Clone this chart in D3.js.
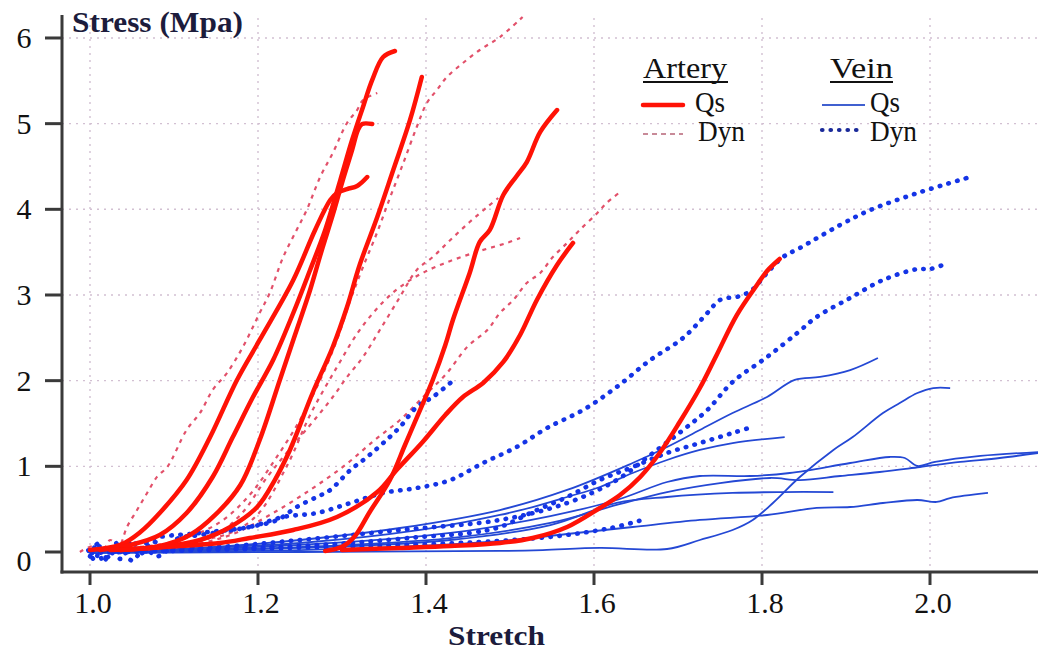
<!DOCTYPE html>
<html>
<head>
<meta charset="utf-8">
<script src="https://cdn.jsdelivr.net/npm/d3@7"></script>
<style>
  html, body { margin: 0; padding: 0; background: #fff; }
  svg { display: block; }
  text { font-family: "Liberation Serif", "Times New Roman", Times, serif; }
</style>
</head>
<body>
<svg id="chart" width="1038" height="651"></svg>
<script>
// stretch / stress (MPa) curves

// artery, quasi-static (thick red)
const arteryQs1 = [[1.000,0.023],[1.036,0.082],[1.060,0.233],[1.083,0.455],[1.115,0.840],[1.143,1.342],[1.175,2.008],[1.202,2.475],[1.242,3.175],[1.268,3.759],[1.286,4.109],[1.294,4.190],[1.306,4.237],[1.318,4.272],[1.330,4.377]];
const arteryQs2 = [[1.012,0.023],[1.048,0.082],[1.083,0.198],[1.115,0.455],[1.146,0.875],[1.170,1.342],[1.194,1.809],[1.218,2.241],[1.242,2.790],[1.262,3.292],[1.280,3.759],[1.298,4.342],[1.312,4.809],[1.325,5.194],[1.336,5.510],[1.349,5.778],[1.363,5.848]];
const arteryQs3 = [[1.024,0.023],[1.083,0.070],[1.119,0.198],[1.149,0.432],[1.179,0.782],[1.202,1.307],[1.226,2.008],[1.244,2.533],[1.262,3.058],[1.276,3.525],[1.289,3.934],[1.301,4.342],[1.312,4.692],[1.319,4.926],[1.324,4.996],[1.336,4.996]];
const arteryQs4 = [[1.036,0.023],[1.095,0.070],[1.131,0.140],[1.167,0.292],[1.199,0.525],[1.220,0.840],[1.238,1.191],[1.265,1.856],[1.289,2.393],[1.306,2.860],[1.321,3.350],[1.342,3.910],[1.361,4.459],[1.381,5.043],[1.395,5.545]];
const arteryQs5 = [[1.280,0.012],[1.300,0.060],[1.315,0.180],[1.333,0.467],[1.357,0.840],[1.375,1.249],[1.393,1.658],[1.408,2.008],[1.423,2.416],[1.432,2.708],[1.452,3.257],[1.464,3.619],[1.476,3.759],[1.492,4.167],[1.508,4.389],[1.520,4.552],[1.536,4.903],[1.556,5.159]];
const arteryQs6 = [[1.036,0.023],[1.107,0.070],[1.155,0.105],[1.190,0.163],[1.242,0.257],[1.294,0.409],[1.342,0.700],[1.365,0.957],[1.396,1.284],[1.423,1.599],[1.444,1.809],[1.468,1.973],[1.492,2.218],[1.512,2.533],[1.532,2.942],[1.556,3.350],[1.575,3.607]];
const arteryQs7 = [[1.300,0.023],[1.369,0.047],[1.429,0.070],[1.488,0.105],[1.527,0.163],[1.568,0.292],[1.607,0.514],[1.631,0.665],[1.655,0.875],[1.679,1.167],[1.702,1.517],[1.726,1.914],[1.746,2.300],[1.770,2.766],[1.794,3.117],[1.806,3.280],[1.821,3.420]];

// artery, dynamic (thin dashed)
const arteryDyn1 = [[0.988,0.000],[1.004,0.070],[1.015,0.020],[1.024,0.140],[1.034,0.060],[1.044,0.292],[1.056,0.490],[1.068,0.689],[1.080,0.880],[1.092,0.992],[1.115,1.424],[1.131,1.623],[1.146,1.891],[1.163,2.089],[1.182,2.393],[1.202,2.790],[1.214,3.023],[1.230,3.443],[1.246,3.759],[1.258,3.992],[1.274,4.377],[1.289,4.657],[1.306,5.008],[1.318,5.159],[1.325,5.276],[1.342,5.358]];
const arteryDyn2 = [[1.048,0.035],[1.107,0.140],[1.155,0.350],[1.190,0.665],[1.220,1.074],[1.250,1.541],[1.274,2.008],[1.294,2.475],[1.310,2.942],[1.325,3.327],[1.342,3.735],[1.357,4.132],[1.373,4.541],[1.389,4.961],[1.401,5.241],[1.413,5.393],[1.425,5.545],[1.444,5.708],[1.464,5.860],[1.488,6.011],[1.515,6.245]];
const arteryDyn3 = [[1.006,0.023],[1.071,0.070],[1.131,0.140],[1.167,0.222],[1.199,0.432],[1.235,1.016],[1.262,1.599],[1.294,2.159],[1.321,2.591],[1.349,2.918],[1.369,3.093],[1.396,3.257],[1.429,3.397],[1.464,3.514],[1.496,3.607],[1.512,3.665]];
const arteryDyn4 = [[1.024,0.012],[1.107,0.058],[1.167,0.198],[1.214,0.432],[1.262,0.724],[1.304,1.016],[1.339,1.307],[1.369,1.541],[1.399,1.833],[1.425,2.089],[1.449,2.393],[1.473,2.591],[1.488,2.790],[1.504,2.942],[1.520,3.140],[1.536,3.257],[1.551,3.443],[1.568,3.607],[1.583,3.759],[1.604,3.957],[1.615,4.074],[1.631,4.202]];
const arteryDyn5 = [[1.012,0.023],[1.083,0.070],[1.143,0.163],[1.179,0.432],[1.211,0.875],[1.230,1.109],[1.250,1.342],[1.270,1.576],[1.289,1.809],[1.306,2.043],[1.325,2.276],[1.345,2.591],[1.369,2.977],[1.389,3.292],[1.408,3.443],[1.429,3.642],[1.452,3.852],[1.473,4.027],[1.486,4.132]];

// vein, quasi-static (thin blue)
const veinQs1 = [[1.000,0.000],[1.131,0.047],[1.250,0.140],[1.369,0.280],[1.488,0.490],[1.568,0.724],[1.646,1.039],[1.687,1.226],[1.726,1.424],[1.765,1.622],[1.806,1.809],[1.839,2.008],[1.869,2.043],[1.905,2.124],[1.938,2.265]];
const veinQs2 = [[1.000,-0.012],[1.250,0.000],[1.488,0.012],[1.539,0.023],[1.607,0.047],[1.687,0.035],[1.726,0.140],[1.765,0.257],[1.789,0.374],[1.813,0.572],[1.845,0.875],[1.885,1.191],[1.908,1.342],[1.944,1.622],[1.964,1.739],[1.985,1.856],[2.004,1.914],[2.024,1.914]];
const veinQs3 = [[1.000,0.000],[1.250,0.082],[1.429,0.222],[1.548,0.420],[1.627,0.607],[1.687,0.817],[1.726,0.887],[1.786,0.887],[1.833,0.922],[1.905,1.039],[1.952,1.109],[1.970,1.097],[1.985,1.004],[2.006,1.051],[2.060,1.121],[2.129,1.167]];
const veinQs4 = [[1.000,0.000],[1.250,0.058],[1.429,0.163],[1.548,0.339],[1.627,0.549],[1.687,0.700],[1.750,0.805],[1.810,0.864],[1.845,0.840],[1.893,0.887],[1.940,0.934],[1.988,0.992],[2.036,1.051],[2.083,1.097],[2.129,1.156]];
const veinQs5 = [[1.000,0.000],[1.250,0.047],[1.429,0.140],[1.548,0.315],[1.627,0.572],[1.687,0.642],[1.765,0.689],[1.825,0.700],[1.885,0.700]];
const veinQs6 = [[1.000,0.000],[1.250,0.023],[1.488,0.128],[1.568,0.210],[1.646,0.292],[1.726,0.374],[1.806,0.432],[1.865,0.514],[1.905,0.525],[1.944,0.572],[1.985,0.607],[2.008,0.584],[2.024,0.630],[2.069,0.689]];
const veinQs7 = [[1.000,0.000],[1.250,0.105],[1.393,0.257],[1.488,0.432],[1.527,0.525],[1.568,0.642],[1.607,0.759],[1.646,0.922],[1.687,1.074],[1.726,1.191],[1.765,1.272],[1.827,1.342]];

// vein, dynamic (blue dots)
const veinDyn1 = [[0.998,0.020],[1.006,-0.100],[1.013,0.090],[1.021,-0.060],[1.030,0.110],[1.040,-0.040],[1.050,0.130],[1.060,0.020],[1.071,0.140],[1.131,0.222],[1.190,0.292],[1.230,0.409],[1.270,0.455],[1.310,0.572],[1.349,0.689],[1.389,0.747],[1.429,0.840],[1.468,1.039],[1.508,1.226],[1.544,1.447],[1.587,1.658],[1.627,1.926],[1.667,2.241],[1.706,2.498],[1.735,2.790],[1.750,2.942],[1.774,2.988],[1.788,3.058],[1.806,3.257],[1.825,3.443],[1.845,3.548],[1.893,3.817],[1.929,3.992],[1.985,4.190],[2.044,4.366]];
const veinDyn2 = [[1.002,0.000],[1.010,0.100],[1.020,-0.070],[1.035,0.060],[1.050,-0.100],[1.065,0.040],[1.080,-0.050],[1.100,0.060],[1.131,0.047],[1.250,0.140],[1.369,0.257],[1.488,0.374],[1.568,0.572],[1.627,0.840],[1.667,1.132],[1.706,1.424],[1.735,1.658],[1.765,1.984],[1.806,2.276],[1.842,2.556],[1.865,2.743],[1.905,2.965],[1.944,3.175],[1.985,3.303],[2.000,3.303],[2.021,3.373]];
const veinDyn3 = [[1.000,-0.050],[1.008,0.080],[1.016,-0.120],[1.026,0.050],[1.036,-0.080],[1.048,0.100],[1.060,-0.020],[1.075,0.120],[1.090,0.050],[1.105,0.160],[1.131,0.198],[1.190,0.292],[1.223,0.374],[1.246,0.525],[1.270,0.642],[1.286,0.724],[1.310,0.957],[1.330,1.109],[1.349,1.272],[1.369,1.459],[1.389,1.693],[1.408,1.809],[1.429,1.973]];
const veinDyn4 = [[1.002,0.000],[1.190,0.047],[1.310,0.105],[1.393,0.175],[1.452,0.222],[1.488,0.292],[1.527,0.467],[1.568,0.642],[1.607,0.840],[1.646,0.992],[1.687,1.156],[1.726,1.272],[1.765,1.389],[1.788,1.459]];
const veinDyn5 = [[1.002,-0.010],[1.250,0.050],[1.369,0.080],[1.488,0.130],[1.560,0.190],[1.620,0.280],[1.660,0.380]];

const arteryQsCurves = [arteryQs1, arteryQs2, arteryQs3, arteryQs4, arteryQs5, arteryQs6, arteryQs7];
const arteryDynCurves = [arteryDyn1, arteryDyn2, arteryDyn3, arteryDyn4, arteryDyn5];
const veinQsCurves = [veinQs1, veinQs2, veinQs3, veinQs4, veinQs5, veinQs6, veinQs7];
const veinDynCurves = [veinDyn1, veinDyn2, veinDyn3, veinDyn4, veinDyn5];

const xTicks = [1.0, 1.2, 1.4, 1.6, 1.8, 2.0];
const yTicks = [0, 1, 2, 3, 4, 5, 6];

const svg = d3.select("#chart");
const W = 1038, H = 651;
const plotLeft = 62, plotBottom = 572, plotTop = 8;

const x = d3.scaleLinear().domain([0.96667, 2.12857]).range([plotLeft, W]);
const y = d3.scaleLinear().domain([-0.2335, 6.35]).range([plotBottom, plotTop]);

// grid (dotted)
const grid = svg.append("g").attr("stroke", "#d2c0d2").attr("stroke-width", 1.4).attr("stroke-dasharray", "2,5");
grid.selectAll("line.gy").data(yTicks.filter(d => d > 0)).join("line")
    .attr("x1", plotLeft).attr("x2", W).attr("y1", d => y(d)).attr("y2", d => y(d));
grid.selectAll("line.gx").data(xTicks).join("line")
    .attr("x1", d => x(d)).attr("x2", d => x(d)).attr("y1", plotTop + 10).attr("y2", plotBottom);

svg.append("clipPath").attr("id", "plot")
  .append("rect").attr("x", plotLeft).attr("y", plotTop).attr("width", W - plotLeft).attr("height", plotBottom - plotTop);

const line = d3.line().x(d => x(d[0])).y(d => y(d[1])).curve(d3.curveCatmullRom.alpha(0.5));
const plot = svg.append("g").attr("clip-path", "url(#plot)").attr("fill", "none");

plot.append("g").selectAll("path").data(veinQsCurves).join("path")
    .attr("d", line).attr("stroke", "#2448d4").attr("stroke-width", 1.8);

plot.append("g").selectAll("path").data(arteryDynCurves).join("path")
    .attr("d", line).attr("stroke", "#e2506a").attr("stroke-width", 2.2)
    .attr("stroke-dasharray", "4,5");

plot.append("g").selectAll("path").data(veinDynCurves).join("path")
    .attr("d", line).attr("stroke", "#1434e6").attr("stroke-width", 4.6)
    .attr("stroke-linecap", "round").attr("stroke-dasharray", "0.5,8.5");

plot.append("g").selectAll("path").data(arteryQsCurves).join("path")
    .attr("d", line).attr("stroke", "#ff1206").attr("stroke-width", 4.5)
    .attr("stroke-linecap", "round").attr("stroke-linejoin", "round");

// axes
const axisColor = "#3a3a3a";
svg.append("line").attr("x1", plotLeft).attr("x2", plotLeft).attr("y1", 15).attr("y2", plotBottom + 1.5)
    .attr("stroke", axisColor).attr("stroke-width", 3);
svg.append("line").attr("x1", plotLeft - 1.5).attr("x2", W).attr("y1", plotBottom).attr("y2", plotBottom)
    .attr("stroke", axisColor).attr("stroke-width", 3);

svg.append("g").selectAll("line").data(yTicks).join("line")
    .attr("x1", plotLeft - 17).attr("x2", plotLeft).attr("y1", d => y(d)).attr("y2", d => y(d))
    .attr("stroke", axisColor).attr("stroke-width", 3);
svg.append("g").selectAll("line").data(xTicks).join("line")
    .attr("x1", d => x(d)).attr("x2", d => x(d)).attr("y1", plotBottom).attr("y2", plotBottom + 13)
    .attr("stroke", axisColor).attr("stroke-width", 3);

svg.append("g").selectAll("text").data(yTicks).join("text")
    .attr("x", 24).attr("y", d => y(d) + (d === 0 ? 19 : 10))
    .attr("text-anchor", "middle").attr("font-size", 30)
    .attr("fill", "#111").text(d => d);
svg.append("g").selectAll("text").data(xTicks).join("text")
    .attr("x", d => x(d) + 3).attr("y", 613)
    .attr("text-anchor", "middle").attr("font-size", 30)
    .attr("fill", "#111").text(d => d.toFixed(1));

svg.append("text").attr("x", 72).attr("y", 32)
    .attr("font-weight", "bold").attr("font-size", 30)
    .attr("textLength", 171).attr("lengthAdjust", "spacingAndGlyphs")
    .attr("fill", "#1c1c3c").text("Stress (Mpa)");
svg.append("text").attr("x", 448).attr("y", 645)
    .attr("font-weight", "bold").attr("font-size", 28)
    .attr("textLength", 97).attr("lengthAdjust", "spacingAndGlyphs")
    .attr("fill", "#1c1c3c").text("Stretch");

// legend
const legend = svg.append("g").attr("fill", "#111");
function legendText(tx, ty, len, s) {
    legend.append("text").attr("x", tx).attr("y", ty).attr("font-size", 29)
        .attr("textLength", len).attr("lengthAdjust", "spacingAndGlyphs").text(s);
}
legendText(643, 78, 84, "Artery");
legendText(830, 78, 63, "Vein");
legend.append("line").attr("x1", 643).attr("x2", 728).attr("y1", 82).attr("y2", 82).attr("stroke", "#111").attr("stroke-width", 2);
legend.append("line").attr("x1", 830).attr("x2", 893).attr("y1", 82).attr("y2", 82).attr("stroke", "#111").attr("stroke-width", 2);

legend.append("line").attr("x1", 643).attr("x2", 683).attr("y1", 105).attr("y2", 105)
    .attr("stroke", "#ff1206").attr("stroke-width", 4.5).attr("stroke-linecap", "round");
legend.append("line").attr("x1", 643).attr("x2", 683).attr("y1", 134).attr("y2", 134)
    .attr("stroke", "#c88a98").attr("stroke-width", 1.8).attr("stroke-dasharray", "5,4");
legend.append("line").attr("x1", 822).attr("x2", 865).attr("y1", 105).attr("y2", 105)
    .attr("stroke", "#4060d0").attr("stroke-width", 2.2);
legend.append("line").attr("x1", 822).attr("x2", 862).attr("y1", 130).attr("y2", 130)
    .attr("stroke", "#1a2a9a").attr("stroke-width", 4.2).attr("stroke-linecap", "round")
    .attr("stroke-dasharray", "0.5,8");

legendText(695, 112, 30, "Qs");
legendText(698, 141, 47, "Dyn");
legendText(870, 112, 30, "Qs");
legendText(870, 141, 47, "Dyn");
</script>
</body>
</html>
